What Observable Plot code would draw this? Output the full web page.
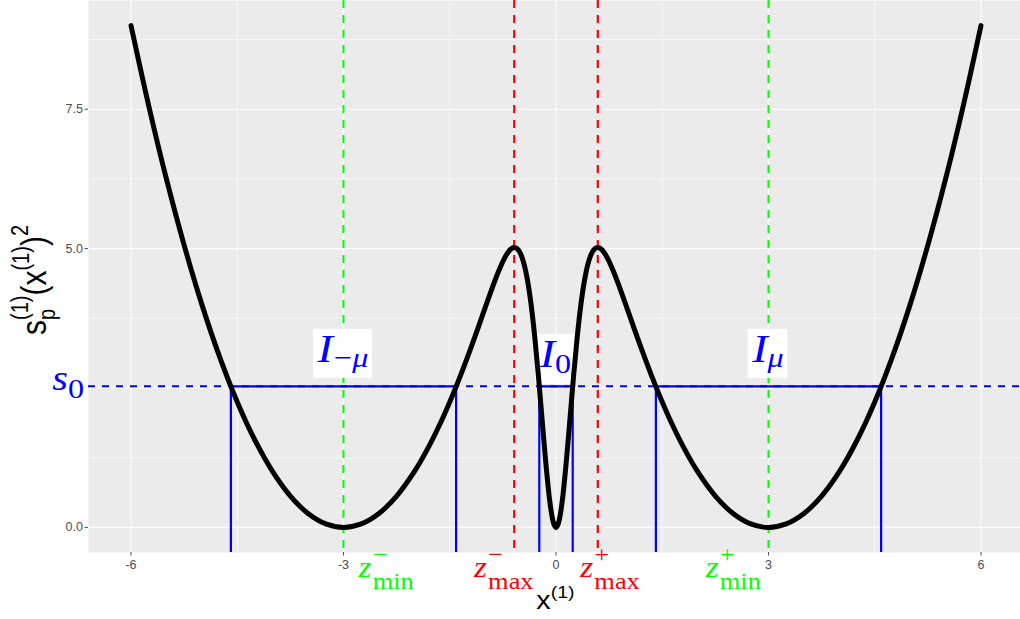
<!DOCTYPE html>
<html>
<head>
<meta charset="utf-8">
<script src="https://cdn.jsdelivr.net/npm/d3@7"></script>
<script src="https://cdn.jsdelivr.net/npm/@observablehq/plot@0.6"></script>
<style>
html, body { margin: 0; padding: 0; background: #fff; }
svg { display: block; }
</style>
</head>
<body>
<div id="chart"></div>
<script>
// ---- data ----
const curveX = [-6, -5.75, -5.5, -5.25, -5, -4.75, -4.5, -4.25, -4, -3.75, -3.5, -3.25, -3, -2.75, -2.5, -2.25, -2, -1.8, -1.6, -1.5, -1.4, -1.3, -1.2, -1.1, -1, -0.9, -0.8, -0.7, -0.65, -0.6, -0.55, -0.5, -0.45, -0.4, -0.35, -0.3, -0.25, -0.2, -0.15, -0.1, -0.075, -0.05, -0.025, 0, 0.025, 0.05, 0.075, 0.1, 0.15, 0.2, 0.25, 0.3, 0.35, 0.4, 0.45, 0.5, 0.55, 0.6, 0.65, 0.7, 0.8, 0.9, 1, 1.1, 1.2, 1.3, 1.4, 1.5, 1.6, 1.8, 2, 2.25, 2.5, 2.75, 3, 3.25, 3.5, 3.75, 4, 4.25, 4.5, 4.75, 5, 5.25, 5.5, 5.75, 6];
const curveY = [9, 7.563, 6.25, 5.063, 4, 3.063, 2.25, 1.563, 1, 0.563, 0.25, 0.063, 0, 0.063, 0.25, 0.563, 1.0, 1.44, 1.959, 2.248, 2.556, 2.882, 3.224, 3.579, 3.941, 4.298, 4.627, 4.89, 4.977, 5.02, 5.002, 4.908, 4.718, 4.414, 3.982, 3.418, 2.741, 1.991, 1.245, 0.599, 0.347, 0.157, 0.04, 0, 0.04, 0.157, 0.347, 0.599, 1.245, 1.991, 2.741, 3.418, 3.982, 4.414, 4.718, 4.908, 5.002, 5.02, 4.977, 4.89, 4.627, 4.298, 3.941, 3.579, 3.224, 2.882, 2.556, 2.248, 1.959, 1.44, 1.0, 0.563, 0.25, 0.063, 0, 0.063, 0.25, 0.563, 1, 1.563, 2.25, 3.063, 4, 5.063, 6.25, 7.563, 9];
const s0 = 2.53;
const intervalStart = [-4.59, -0.236, 1.41];
const intervalEnd = [-1.41, 0.236, 4.59];
const zMin = [-3, 3];
const zMax = [-0.59, 0.59];
const xTicks = [-6, -3, 0, 3, 6];
const xMinor = [-4.5, -1.5, 1.5, 4.5];
const yTicks = [0, 5, 7.5];
const yMajor = [0, 2.5, 5, 7.5];
const yMinor = [1.25, 3.75, 6.25, 8.75];
const intervalNames = ["−μ", "0", "μ"];
const intervalCenters = [-3, 0, 3];
const zSup = ["−", "−", "+", "+"];
const zSub = ["min", "max", "max", "min"];
const zKind = ["min", "max", "max", "min"];

// ---- layout / style ----
const BLUE = "#0000FF", RED = "#FF0000", GREEN = "#00FF00";
const zLabelX = [-2.39, -0.73, 0.77, 2.51];
const intervalLabelDy = [-24, -19, -24];
const SERIF = "'Liberation Serif', 'DejaVu Serif', serif";
const SANS = "'Liberation Sans', Arial, sans-serif";
const STRETCH = 1.15;

const curve = curveX.map((x, i) => ({x, y: curveY[i]}));
const intervals = intervalStart.map((a, i) => ({a, b: intervalEnd[i]}));
const yDomain = [-0.45, 9.45];

const chart = Plot.plot({
  width: 1020,
  height: 619,
  marginLeft: 88,
  marginRight: -3,
  marginTop: 0,
  marginBottom: 67,
  style: {background: "white", fontFamily: SANS, overflow: "hidden"},
  x: {domain: [-6.6, 6.6], label: null},
  y: {domain: yDomain, label: null},
  marks: [
    Plot.frame({fill: "#EBEBEB", stroke: "none"}),
    Plot.ruleX(xMinor, {x: d => d, stroke: "white", strokeWidth: 0.55}),
    Plot.ruleY(yMinor, {y: d => d, stroke: "white", strokeWidth: 0.55}),
    Plot.ruleX(xTicks, {x: d => d, stroke: "white", strokeWidth: 1.1}),
    Plot.ruleY(yMajor, {y: d => d, stroke: "white", strokeWidth: 1.1}),
    Plot.axisX({ticks: xTicks, tickFormat: d => String(d), tickSize: 3.5, tickPadding: 4, fontSize: 12.5, color: "#4D4D4D", label: null}),
    Plot.axisY({ticks: yTicks, tickFormat: d => d.toFixed(1), tickSize: 3.5, tickPadding: 2, fontSize: 12.5, color: "#4D4D4D", label: null}),
    Plot.ruleX(zMin, {x: d => d, stroke: GREEN, strokeWidth: 2, strokeDasharray: "8,7"}),
    Plot.ruleX(zMax, {x: d => d, stroke: RED, strokeWidth: 2.2, strokeDasharray: "8,7"}),
    Plot.ruleY([s0], {y: d => d, stroke: BLUE, strokeWidth: 2, strokeDasharray: "7,7"}),
    Plot.ruleX(intervalStart.concat(intervalEnd), {x: d => d, y1: yDomain[0], y2: s0, stroke: BLUE, strokeWidth: 2.2}),
    Plot.ruleY(intervals, {y: () => s0, x1: "a", x2: "b", stroke: BLUE, strokeWidth: 2.2}),
    Plot.line(curve, {x: "x", y: "y", stroke: "black", strokeWidth: 5, curve: "catmull-rom", strokeLinecap: "round", strokeLinejoin: "round"})
  ]
});

document.getElementById("chart").appendChild(chart);

const sx = chart.scale("x"), sy = chart.scale("y");
const X = v => sx.apply(v), Y = v => sy.apply(v);
const svg = d3.select(chart);

// one <text> per label, pieces as <tspan>s (sub/superscripts)
function rich(parent, pieces, o) {
  const g = parent.append("g");
  const inner = g.append("g");
  const text = inner.append("text")
    .attr("text-anchor", "start")
    .attr("font-family", o.family)
    .attr("fill", o.color);
  let cx = 0, stackW = 0;
  for (const p of pieces) {
    const t = text.append("tspan")
      .attr("x", cx).attr("y", p.dy || 0)
      .attr("font-size", p.size)
      .attr("font-style", p.italic ? "italic" : "normal")
      .text(p.t);
    const w = t.node().getComputedTextLength();
    if (p.stack) stackW = Math.max(stackW, w);
    else { cx += Math.max(w, stackW) + (p.gap || 0); stackW = 0; }
  }
  const shift = o.anchor === "end" ? -cx : o.anchor === "start" ? 0 : -cx / 2;
  inner.attr("transform", `translate(${shift},0)`);
  if (o.box) {
    const b = inner.node().getBBox();
    inner.insert("rect", ":first-child")
      .attr("x", b.x - o.box[0]).attr("y", b.y - o.box[1])
      .attr("width", b.width + 2 * o.box[0]).attr("height", b.height + o.box[1] + o.box[2])
      .attr("fill", "white");
  }
  g.attr("transform", `translate(${o.x},${o.y}) scale(${o.sx || 1},1)` + (o.rotate ? ` rotate(${o.rotate})` : ""));
  return g;
}

// interval labels, under the curve
const labelLayer = svg.insert("g", 'g[aria-label="line"]');
intervalNames.forEach((name, i) => {
  const pieces = [{t: "I", size: 40, italic: true, gap: name === "−μ" ? 1 : 0}];
  if (name === "−μ") { pieces.push({t: "−", size: 28, dy: 5}); pieces.push({t: "μ", size: 28, italic: true, dy: 5}); }
  else if (name === "μ") pieces.push({t: "μ", size: 28, italic: true, dy: 5});
  else pieces.push({t: "0", size: 28, dy: 6});
  rich(labelLayer, pieces, {x: X(intervalCenters[i]), y: Y(s0) + intervalLabelDy[i], family: SERIF, color: BLUE, anchor: "middle", sx: STRETCH, box: [3, -3, 5]});
});

// s0 label on the left
rich(svg, [{t: "s", size: 35, italic: true}, {t: "0", size: 28, dy: 8}],
  {x: X(-6.6) - 4, y: Y(s0) + 4, family: SERIF, color: BLUE, anchor: "end", sx: STRETCH});

// z labels below the axis
zSup.forEach((sup, i) => {
  rich(svg, [{t: "z", size: 29, italic: true, gap: 1}, {t: sup, size: 23, dy: -15, stack: true}, {t: zSub[i], size: 23, dy: 11.5}],
    {x: X(zLabelX[i]), y: Y(yDomain[0]) + 25, family: SERIF, color: zKind[i] === "min" ? GREEN : RED, anchor: "middle", sx: STRETCH});
});

// axis titles
rich(svg, [{t: "x", size: 25}, {t: "(1)", size: 17, dy: -11}],
  {x: X(0), y: Y(yDomain[0]) + 57, family: SANS, color: "black", anchor: "middle", sx: STRETCH});
rich(svg, [{t: "s", size: 30}, {t: "(1)", size: 20, dy: -15.5, stack: true}, {t: "p", size: 20, dy: 8},
           {t: "(x", size: 30}, {t: "(1)", size: 20, dy: -15}, {t: ")", size: 30}, {t: "2", size: 20, dy: -16}],
  {x: 46, y: Y(4.5) + 4, family: SANS, color: "black", anchor: "middle", sx: STRETCH, rotate: -90});
</script>
</body>
</html>
